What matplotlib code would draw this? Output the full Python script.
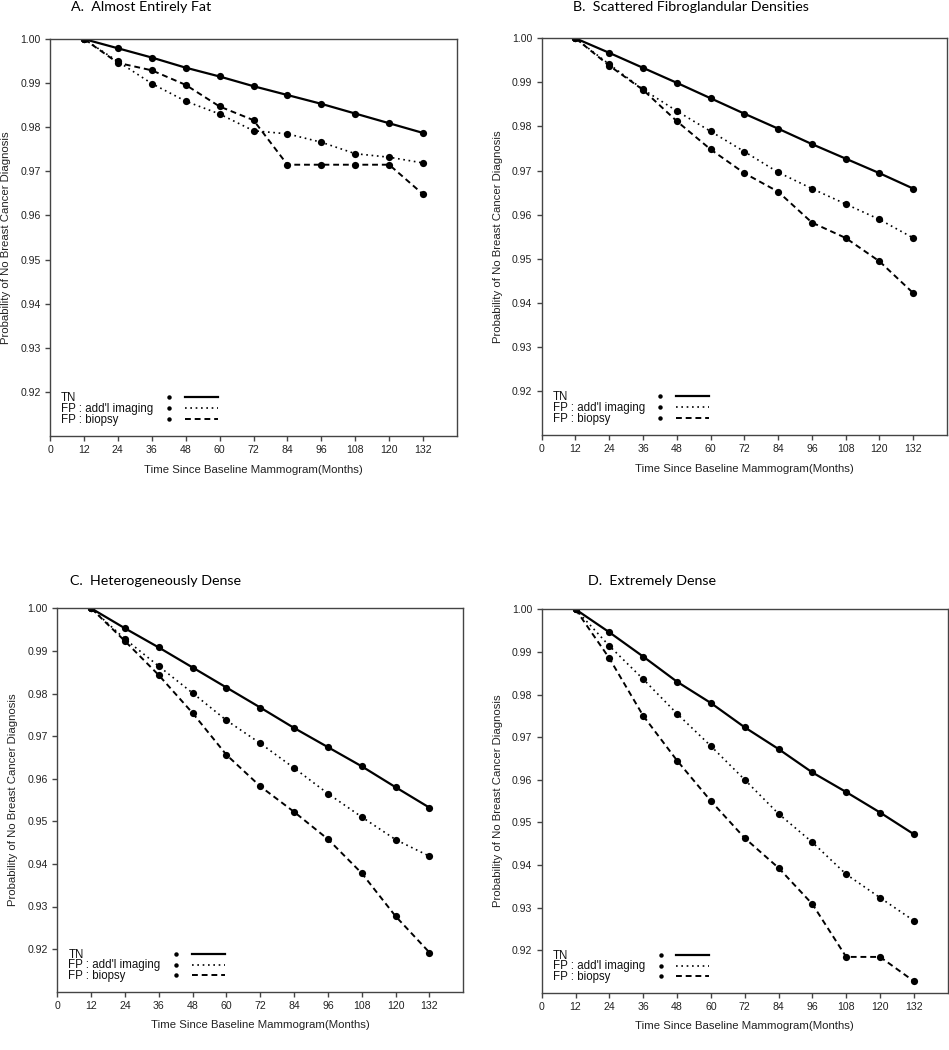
import matplotlib
matplotlib.use("Agg")
import matplotlib.pyplot as plt

months = [12, 24, 36, 48, 60, 72, 84, 96, 108, 120, 132]
x_ticks = [0, 12, 24, 36, 48, 60, 72, 84, 96, 108, 120, 132]
y_ticks = [0.92, 0.93, 0.94, 0.95, 0.96, 0.97, 0.98, 0.99, 1.00]

titles = ["A.  Almost Entirely Fat", "B.  Scattered Fibroglandular Densities",
          "C.  Heterogeneously Dense", "D.  Extremely Dense"]
legend_labels = ["TN", "FP : add'l imaging", "FP : biopsy"]

# Panel A
a_tn  = [1.000, 0.9979, 0.9958, 0.9935, 0.9915, 0.9893, 0.9873, 0.9853, 0.9831, 0.9809, 0.9787]
a_img = [1.000, 0.9949, 0.9899, 0.9859, 0.9830, 0.9792, 0.9785, 0.9766, 0.9740, 0.9732, 0.9719]
a_bx  = [1.000, 0.9946, 0.9929, 0.9896, 0.9847, 0.9816, 0.9715, 0.9715, 0.9715, 0.9715, 0.9648]
# Panel B
b_tn  = [1.000, 0.9967, 0.9933, 0.9899, 0.9864, 0.9829, 0.9795, 0.9760, 0.9727, 0.9694, 0.9659]
b_img = [1.000, 0.9941, 0.9884, 0.9835, 0.9789, 0.9743, 0.9696, 0.9659, 0.9624, 0.9589, 0.9547]
b_bx  = [1.000, 0.9938, 0.9883, 0.9812, 0.9748, 0.9694, 0.9652, 0.9582, 0.9547, 0.9494, 0.9422]
# Panel C
c_tn  = [1.000, 0.9953, 0.9908, 0.9861, 0.9814, 0.9767, 0.9719, 0.9674, 0.9629, 0.9580, 0.9532]
c_img = [1.000, 0.9928, 0.9864, 0.9801, 0.9737, 0.9683, 0.9625, 0.9565, 0.9510, 0.9457, 0.9418]
c_bx  = [1.000, 0.9923, 0.9843, 0.9754, 0.9656, 0.9582, 0.9522, 0.9458, 0.9378, 0.9277, 0.9192]
# Panel D
d_tn  = [1.000, 0.9946, 0.9889, 0.9830, 0.9780, 0.9723, 0.9672, 0.9617, 0.9571, 0.9523, 0.9472]
d_img = [1.000, 0.9914, 0.9836, 0.9755, 0.9679, 0.9600, 0.9520, 0.9453, 0.9378, 0.9323, 0.9269]
d_bx  = [1.000, 0.9885, 0.9750, 0.9645, 0.9550, 0.9463, 0.9393, 0.9308, 0.9184, 0.9184, 0.9127]

panels = [(a_tn, a_img, a_bx), (b_tn, b_img, b_bx), (c_tn, c_img, c_bx), (d_tn, d_img, d_bx)]

W, H = 949, 1050
fig = plt.figure(figsize=(W / 100, H / 100), dpi=100)

# axes boxes in pixels: left, top, right, bottom
boxes = [(50, 39, 457, 436), (541.7, 38.3, 947, 435),
         (57.3, 608.3, 463.3, 991.7), (541.7, 609.3, 947.7, 992.7)]
title_pos = [(71, 10.7), (572.7, 10.7), (70, 585), (587.7, 585)]

styles = [dict(linestyle="-", lw=1.6),
          dict(linestyle=(0, (1, 2.2)), lw=1.2),
          dict(linestyle=(0, (3, 2)), lw=1.4)]

tick_font = dict(family=["Liberation Sans", "DejaVu Sans"])
spine_col = "#444444"

for i, (box, series) in enumerate(zip(boxes, panels)):
    l, t, r, b = box
    ax = fig.add_axes([l / W, 1 - b / H, (r - l) / W, (b - t) / H])
    for vals, st in zip(series, styles):
        ax.plot(months, vals, color="black", marker="o", markersize=5.2,
                markeredgewidth=0, dash_capstyle="butt", **st)
    ax.set_xlim(0, 144)
    ax.set_ylim(0.91, 1.00)
    ax.set_xticks(x_ticks)
    ax.set_xticklabels([str(v) for v in x_ticks], fontsize=7.6, **tick_font)
    ax.set_yticks(y_ticks)
    ax.set_yticklabels([f"{v:.2f}" for v in y_ticks], fontsize=7.6, **tick_font)
    ax.tick_params(direction="out", length=3.6, width=1.0, color=spine_col, pad=3.2,
                   labelcolor="#222222")
    for sp in ax.spines.values():
        sp.set_color(spine_col)
        sp.set_linewidth(1.0)
    ax.set_xlabel("Time Since Baseline Mammogram(Months)", fontsize=8.2,
                  color="#222222", **tick_font)
    ax.set_ylabel("Probability of No Breast Cancer Diagnosis", fontsize=8.2,
                  color="#222222", **tick_font)
    ax.xaxis.set_label_coords(0.5, -0.086)
    ax.yaxis.set_label_coords(-0.108, 0.5)
    ax.xaxis.label.set_va("center")
    ax.yaxis.label.set_va("center")

    # manual legend
    base_y = [0.089, 0.0613, 0.0336]
    for lab, st, yb in zip(legend_labels, styles, base_y):
        ax.text(0.027, yb, lab, transform=ax.transAxes, fontsize=8.3,
                va="baseline", ha="left", color="#111111", **tick_font)
        yc = yb + 0.009
        ax.plot([0.293], [yc], transform=ax.transAxes, marker="o", markersize=3.2,
                markeredgewidth=0, color="black", clip_on=False)
        ax.plot([0.332, 0.413], [yc, yc], transform=ax.transAxes, color="black",
                dash_capstyle="butt", clip_on=False, **st)

    tx, ty = title_pos[i]
    fig.text(tx / W, 1 - ty / H, titles[i], fontsize=10.3, family=["Lato", "DejaVu Sans"],
             ha="left", va="baseline", color="black")

fig.savefig("out.png", dpi=100)
